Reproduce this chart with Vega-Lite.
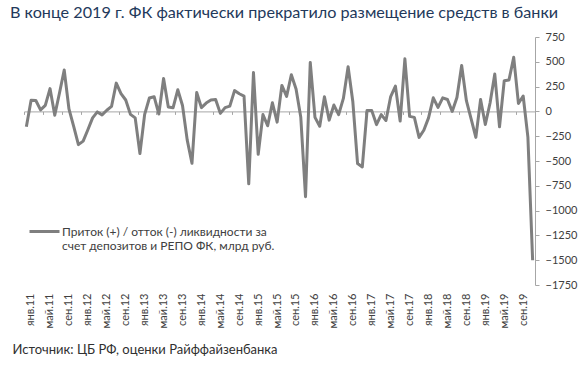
{
  "$schema": "https://vega.github.io/schema/vega-lite/v6.json",
  "width": 511,
  "height": 248,
  "autosize": {"type": "none"},
  "padding": {"left": 24, "top": 37, "right": 50, "bottom": 97},
  "background": "white",
  "title": {
    "text": "В конце 2019 г. ФК фактически прекратило размещение средств в банки",
    "anchor": "start",
    "frame": "group",
    "dx": -14,
    "dy": 22,
    "offset": 19,
    "baseline": "alphabetic",
    "font": "Lato",
    "fontSize": 16.2,
    "fontWeight": "normal",
    "color": "#23395B"
  },
  "data": {
    "values": [
      {"m": "янв.11", "v": -155}, {"m": "фев.11", "v": 113}, {"m": "мар.11", "v": 110}, {"m": "апр.11", "v": 15},
      {"m": "май.11", "v": 60}, {"m": "июн.11", "v": 230}, {"m": "июл.11", "v": -38}, {"m": "авг.11", "v": 185},
      {"m": "сен.11", "v": 417}, {"m": "окт.11", "v": 25}, {"m": "ноя.11", "v": -150}, {"m": "дек.11", "v": -335},
      {"m": "янв.12", "v": -300}, {"m": "фев.12", "v": -185}, {"m": "мар.12", "v": -65}, {"m": "апр.12", "v": -5},
      {"m": "май.12", "v": -35}, {"m": "июн.12", "v": 12}, {"m": "июл.12", "v": 50}, {"m": "авг.12", "v": 285},
      {"m": "сен.12", "v": 180}, {"m": "окт.12", "v": 115}, {"m": "ноя.12", "v": -30}, {"m": "дек.12", "v": -65},
      {"m": "янв.13", "v": -425}, {"m": "фев.13", "v": -30}, {"m": "мар.13", "v": 135}, {"m": "апр.13", "v": 148},
      {"m": "май.13", "v": -26}, {"m": "июн.13", "v": 332}, {"m": "июл.13", "v": 45}, {"m": "авг.13", "v": 36},
      {"m": "сен.13", "v": 218}, {"m": "окт.13", "v": 60}, {"m": "ноя.13", "v": -290}, {"m": "дек.13", "v": -523},
      {"m": "янв.14", "v": 190}, {"m": "фев.14", "v": 38}, {"m": "мар.14", "v": 84}, {"m": "апр.14", "v": 114},
      {"m": "май.14", "v": 120}, {"m": "июн.14", "v": -20}, {"m": "июл.14", "v": 38}, {"m": "авг.14", "v": 53},
      {"m": "сен.14", "v": 210}, {"m": "окт.14", "v": 178}, {"m": "ноя.14", "v": 155}, {"m": "дек.14", "v": -730},
      {"m": "янв.15", "v": 392}, {"m": "фев.15", "v": -433}, {"m": "мар.15", "v": -32}, {"m": "апр.15", "v": -145},
      {"m": "май.15", "v": 87}, {"m": "июн.15", "v": -108}, {"m": "июл.15", "v": 262}, {"m": "авг.15", "v": 151},
      {"m": "сен.15", "v": 370}, {"m": "окт.15", "v": 225}, {"m": "ноя.15", "v": -60}, {"m": "дек.15", "v": -860},
      {"m": "янв.16", "v": 493}, {"m": "фев.16", "v": -60}, {"m": "мар.16", "v": -150}, {"m": "апр.16", "v": 148},
      {"m": "май.16", "v": -88}, {"m": "июн.16", "v": 64}, {"m": "июл.16", "v": -32}, {"m": "авг.16", "v": 131},
      {"m": "сен.16", "v": 450}, {"m": "окт.16", "v": 97}, {"m": "ноя.16", "v": -526}, {"m": "дек.16", "v": -560},
      {"m": "янв.17", "v": 8}, {"m": "фев.17", "v": 8}, {"m": "мар.17", "v": -133}, {"m": "апр.17", "v": -32},
      {"m": "май.17", "v": -92}, {"m": "июн.17", "v": 150}, {"m": "июл.17", "v": 255}, {"m": "авг.17", "v": -97},
      {"m": "сен.17", "v": 530}, {"m": "окт.17", "v": -50}, {"m": "ноя.17", "v": -60}, {"m": "дек.17", "v": -262},
      {"m": "янв.18", "v": -190}, {"m": "фев.18", "v": -65}, {"m": "мар.18", "v": 137}, {"m": "апр.18", "v": 40},
      {"m": "май.18", "v": 137}, {"m": "июн.18", "v": 120}, {"m": "июл.18", "v": 0}, {"m": "авг.18", "v": 140},
      {"m": "сен.18", "v": 462}, {"m": "окт.18", "v": 108}, {"m": "ноя.18", "v": -75}, {"m": "дек.18", "v": -262},
      {"m": "янв.19", "v": 120}, {"m": "фев.19", "v": -132}, {"m": "мар.19", "v": 85}, {"m": "апр.19", "v": 376},
      {"m": "май.19", "v": -155}, {"m": "июн.19", "v": 310}, {"m": "июл.19", "v": 316}, {"m": "авг.19", "v": 545},
      {"m": "сен.19", "v": 80}, {"m": "окт.19", "v": 155}, {"m": "ноя.19", "v": -260}, {"m": "дек.19", "v": -1500}
    ]
  },
  "mark": {"type": "line", "strokeWidth": 3, "strokeJoin": "round"},
  "encoding": {
    "x": {
      "field": "m",
      "type": "ordinal",
      "sort": null,
      "scale": {"type": "point", "padding": 0.5},
      "axis": {
        "values": ["янв.11","май.11","сен.11","янв.12","май.12","сен.12","янв.13","май.13","сен.13","янв.14","май.14","сен.14","янв.15","май.15","сен.15","янв.16","май.16","сен.16","янв.17","май.17","сен.17","янв.18","май.18","сен.18","янв.19","май.19","сен.19"],
        "offset": -173.6,
        "domainColor": "#A6A6A6",
        "domainWidth": 1,
        "tickColor": "#A6A6A6",
        "tickSize": 3,
        "tickOffset": -2.37,
        "labelOffset": 7,
        "labelAngle": -90,
        "labelAlign": "right",
        "labelBaseline": "middle",
        "labelPadding": 178.6,
        "labelFont": "Lato",
        "labelFontSize": 11,
        "labelColor": "#404040",
        "labelOverlap": false,
        "title": "Источник: ЦБ РФ, оценки Райффайзенбанка",
        "titleX": -12,
        "titleY": 241.6,
        "titleAlign": "left",
        "titleAnchor": "start",
        "titleBaseline": "alphabetic",
        "titleFont": "Lato",
        "titleFontSize": 13,
        "titleFontWeight": "normal",
        "titleColor": "#303030"
      }
    },
    "y": {
      "field": "v",
      "type": "quantitative",
      "scale": {"domain": [-1750, 750], "nice": false, "zero": false},
      "axis": {
        "orient": "right",
        "values": [-1750, -1500, -1250, -1000, -750, -500, -250, 0, 250, 500, 750],
        "format": "d",
        "grid": false,
        "domainColor": "#A6A6A6",
        "tickColor": "#A6A6A6",
        "tickSize": 4,
        "labelPadding": 6,
        "labelFont": "Lato",
        "labelFontSize": 11,
        "labelColor": "#404040",
        "title": null
      }
    },
    "color": {
      "datum": "Приток (+) / отток (-) ликвидности за|счет депозитов и РЕПО ФК, млрд руб.",
      "type": "nominal",
      "scale": {"range": ["#7F7F7F"]},
      "legend": {
        "orient": "none",
        "legendX": 4,
        "legendY": 178,
        "title": null,
        "padding": 0,
        "symbolType": "stroke",
        "symbolSize": 900,
        "symbolStrokeWidth": 3,
        "labelOffset": 1,
        "labelBaseline": "middle",
        "labelExpr": "split(datum.label, '|')",
        "labelLimit": 400,
        "labelFont": "Lato",
        "labelFontSize": 12,
        "labelColor": "#404040"
      }
    }
  },
  "config": {"view": {"stroke": null}}
}
